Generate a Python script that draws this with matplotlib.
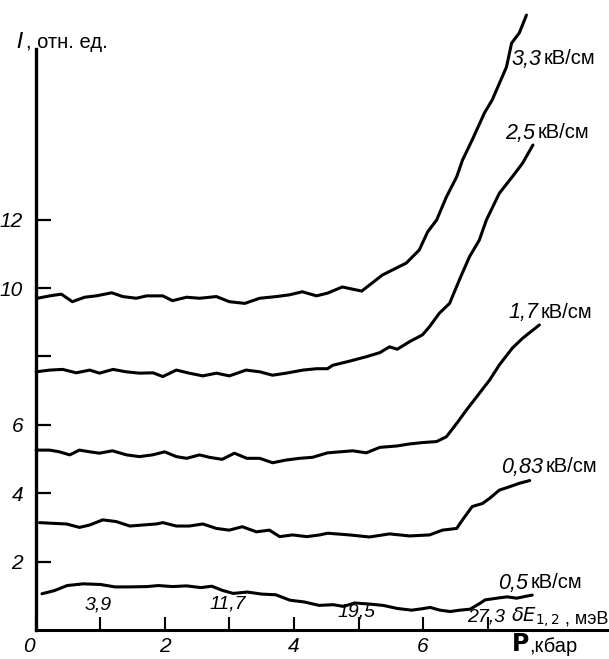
import matplotlib
matplotlib.use("Agg")
import matplotlib.pyplot as plt
from matplotlib.transforms import ScaledTranslation

# ---------------- data ----------------
p_33 = [0.03, 0.22, 0.40, 0.57, 0.76, 0.94, 1.18, 1.35, 1.56, 1.72, 1.97, 2.12, 2.34, 2.54,
        2.80, 3.00, 3.24, 3.47, 3.73, 3.93, 4.13, 4.35, 4.52, 4.75, 5.05, 5.37, 5.74, 5.94,
        6.07, 6.21, 6.36, 6.52, 6.61, 6.76, 6.95, 7.07, 7.29, 7.37, 7.49, 7.60]
i_33 = [9.70, 9.77, 9.82, 9.60, 9.73, 9.77, 9.86, 9.75, 9.70, 9.77, 9.77, 9.63, 9.73, 9.70,
        9.75, 9.60, 9.55, 9.70, 9.75, 9.80, 9.89, 9.77, 9.85, 10.03, 9.91, 10.38, 10.73, 11.11,
        11.64, 11.99, 12.66, 13.25, 13.74, 14.33, 15.12, 15.50, 16.46, 17.16, 17.46, 17.98]

p_25 = [0.01, 0.22, 0.42, 0.63, 0.84, 0.99, 1.20, 1.40, 1.61, 1.82, 1.97, 2.18, 2.38, 2.59,
        2.80, 3.00, 3.26, 3.47, 3.67, 3.88, 4.14, 4.35, 4.52, 4.60, 4.86, 5.12, 5.33, 5.48,
        5.60, 5.79, 5.99, 6.10, 6.25, 6.41, 6.56, 6.72, 6.87, 6.98, 7.18, 7.38, 7.54, 7.70]
i_25 = [7.55, 7.60, 7.62, 7.52, 7.60, 7.51, 7.62, 7.55, 7.51, 7.52, 7.41, 7.60, 7.51, 7.43,
        7.51, 7.43, 7.60, 7.55, 7.45, 7.51, 7.60, 7.64, 7.64, 7.74, 7.86, 7.99, 8.11, 8.28,
        8.21, 8.43, 8.63, 8.87, 9.26, 9.55, 10.23, 10.92, 11.40, 11.99, 12.77, 13.25, 13.65, 14.18]

p_17 = [0.01, 0.22, 0.37, 0.53, 0.68, 0.84, 0.99, 1.19, 1.41, 1.61, 1.81, 2.00, 2.18, 2.34,
        2.54, 2.69, 2.89, 3.08, 3.27, 3.47, 3.67, 3.88, 4.09, 4.29, 4.52, 4.91, 5.12, 5.33,
        5.59, 5.79, 5.99, 6.21, 6.36, 6.52, 6.67, 6.83, 7.03, 7.18, 7.38, 7.54, 7.80]
i_17 = [5.26, 5.26, 5.21, 5.12, 5.26, 5.21, 5.17, 5.24, 5.12, 5.07, 5.12, 5.21, 5.07, 5.02,
        5.12, 5.05, 4.99, 5.17, 5.02, 5.02, 4.89, 4.97, 5.02, 5.05, 5.18, 5.24, 5.18, 5.34,
        5.38, 5.44, 5.48, 5.51, 5.65, 6.04, 6.43, 6.82, 7.31, 7.75, 8.24, 8.53, 8.92]

p_083 = [0.06, 0.26, 0.48, 0.68, 0.84, 1.04, 1.25, 1.46, 1.66, 1.87, 1.97, 2.18, 2.38, 2.59,
         2.80, 3.00, 3.20, 3.42, 3.62, 3.78, 3.98, 4.20, 4.40, 4.52, 4.86, 5.17, 5.48, 5.79,
         6.10, 6.30, 6.52, 6.61, 6.76, 6.92, 7.03, 7.18, 7.34, 7.49, 7.65]
i_083 = [3.14, 3.12, 3.10, 3.00, 3.07, 3.22, 3.17, 3.04, 3.07, 3.10, 3.14, 3.04, 3.04, 3.10,
         2.97, 2.92, 3.02, 2.87, 2.92, 2.73, 2.78, 2.73, 2.78, 2.83, 2.78, 2.72, 2.81, 2.75,
         2.78, 2.92, 2.97, 3.22, 3.61, 3.70, 3.85, 4.09, 4.19, 4.29, 4.37]

p_05 = [0.10, 0.29, 0.49, 0.74, 1.01, 1.23, 1.46, 1.73, 1.90, 2.12, 2.34, 2.56, 2.73, 2.89,
        3.06, 3.28, 3.50, 3.72, 3.94, 4.16, 4.39, 4.61, 4.77, 4.94, 5.16, 5.38, 5.60, 5.82,
        5.98, 6.11, 6.26, 6.42, 6.57, 6.73, 6.88, 6.96, 7.14, 7.30, 7.45, 7.60, 7.69]
i_05 = [1.06, 1.15, 1.30, 1.35, 1.33, 1.26, 1.26, 1.27, 1.30, 1.27, 1.29, 1.24, 1.28, 1.16,
        1.07, 1.11, 1.05, 1.03, 0.87, 0.82, 0.72, 0.74, 0.69, 0.79, 0.76, 0.72, 0.63, 0.58,
        0.62, 0.66, 0.58, 0.54, 0.58, 0.61, 0.78, 0.88, 0.93, 0.97, 0.93, 0.99, 1.02]

field_numbers = ["3,3", "2,5", "1,7", "0,83", "0,5"]
field_unit = "кВ/см"

x_ticks = [0, 1, 2, 3, 4, 5, 6, 7]
x_ticklabels = ["0", "", "2", "", "4", "", "6", ""]
y_ticks = [2, 4, 6, 8, 10, 12]
y_ticklabels = ["2", "4", "6", "", "10", "12"]

de_ticks = [1, 3, 5, 7]
de_labels = ["3,9", "11,7", "19,5", "27,3"]

# ---------------- layout ----------------
W, H, DPI = 609, 659, 100
X0_PX, Y0_PX = 35.5, 630.0      # pixel of origin
PX_PER_P, PX_PER_I = 64.6, 34.2

plt.rcParams["font.family"] = ["Liberation Sans", "DejaVu Sans"]

fig = plt.figure(figsize=(W / DPI, H / DPI), dpi=DPI)
ax = fig.add_axes([X0_PX / W, (H - Y0_PX) / H, (W - X0_PX) / W, Y0_PX / H])
ax.set_xlim(0, (W - X0_PX) / PX_PER_P)
ax.set_ylim(0, Y0_PX / PX_PER_I)
ax.patch.set_visible(False)


def fx(x):
    return x / W


def fy(y):
    return 1 - y / H


curves = [(p_33, i_33), (p_25, i_25), (p_17, i_17), (p_083, i_083), (p_05, i_05)]
for p, i in curves:
    ax.plot(p, i, color="black", lw=2.2, solid_joinstyle="round",
            solid_capstyle="round", clip_on=False)

for s in ("top", "right"):
    ax.spines[s].set_visible(False)
ax.spines["left"].set_bounds(0, 17)
ax.spines["bottom"].set_bounds(0, 8.85)
ax.spines["left"].set_linewidth(2.4)
ax.spines["bottom"].set_linewidth(2.2)

ax.set_xticks(x_ticks)
ax.set_xticklabels(x_ticklabels)
ax.set_yticks(y_ticks)
ax.set_yticklabels(y_ticklabels)
ax.tick_params(axis="y", direction="in", length=11, width=1.6, pad=9, labelsize=15)
ax.tick_params(axis="x", direction="in", length=9.5, width=1.5, pad=5, labelsize=15)
for lbl in ax.get_xticklabels() + ax.get_yticklabels():
    lbl.set_fontstyle("italic")
# the "0" label sits a little left of the origin in the reference
lbl0 = ax.get_xticklabels()[0]
lbl0.set_transform(lbl0.get_transform() + ScaledTranslation(-7 / DPI, 0, fig.dpi_scale_trans))

# delta-E labels above the odd ticks
de_y_px = [605, 604, 612, 617]
for p, txt, ypx in zip(de_ticks, de_labels, de_y_px):
    xpx = X0_PX + p * PX_PER_P
    fig.text(fx(xpx - 2), fy(ypx), txt, ha="center", va="center", fontsize=14, style="italic")
fig.text(fx(511), fy(617), r"$\delta E_{1,2}$", ha="left", va="center", fontsize=14)
fig.text(fx(565), fy(619), ", мэВ", ha="left", va="center", fontsize=13)

# curve labels: italic number + upright unit
lab_split_px = [541, 535, 538, 543, 528]
lab_y_px = [59, 133, 313, 467, 583]
for num, xs, ys in zip(field_numbers, lab_split_px, lab_y_px):
    fig.text(fx(xs), fy(ys), num, ha="right", va="center", fontsize=15.5, style="italic")
    fig.text(fx(xs + 3), fy(ys), field_unit, ha="left", va="center", fontsize=14.5)

# axis titles
fig.text(fx(16), fy(42), r"$I$", ha="left", va="center", fontsize=16)
fig.text(fx(26), fy(43), ", отн. ед.", ha="left", va="center", fontsize=14.5)
fig.text(fx(511), fy(645), r"$\mathbf{P}$", ha="left", va="center", fontsize=17)
fig.text(fx(529), fy(646), ",кбар", ha="left", va="center", fontsize=14.5)

fig.savefig("out.png", dpi=DPI, facecolor="white")
